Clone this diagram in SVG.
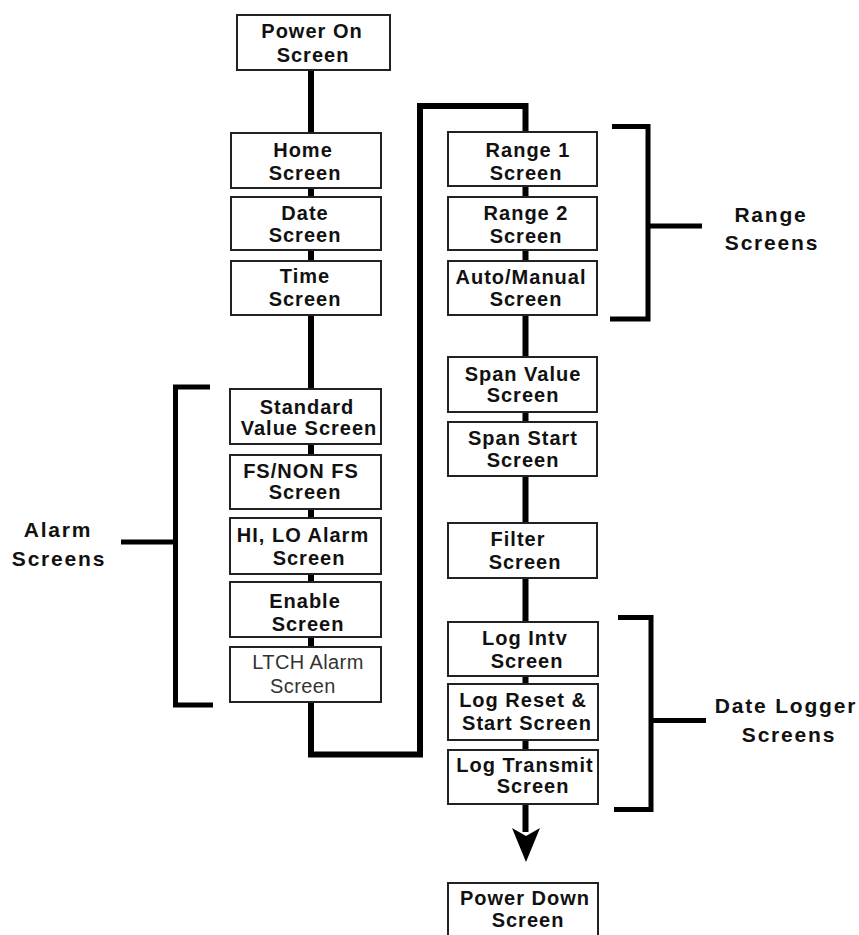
<svg xmlns="http://www.w3.org/2000/svg" width="859" height="935" viewBox="0 0 859 935">
<style>
.box{fill:#fff;stroke:#222;stroke-width:2}
.t{font-family:"Liberation Sans",Arial,sans-serif;font-weight:bold;font-size:20px;letter-spacing:1px;fill:#111;text-anchor:middle}
.r{font-family:"Liberation Sans",Arial,sans-serif;font-weight:normal;font-size:20px;letter-spacing:0.4px;fill:#333;text-anchor:middle}
.lab{font-family:"Liberation Sans",Arial,sans-serif;font-weight:bold;font-size:21px;letter-spacing:1.8px;fill:#111;text-anchor:middle}
.ln{fill:none;stroke:#000;stroke-width:6;stroke-linejoin:miter;stroke-linecap:butt}
.br{fill:none;stroke:#000;stroke-width:5;stroke-linejoin:miter;stroke-linecap:butt}
</style>
<rect width="859" height="935" fill="#fff"/>
<g id="connectors">
<path class="ln" d="M311,70 V754.5 H420 V106 H525.5 V832"/>
<polygon points="512,828 526,836 540,828 526,862" fill="#000"/>
</g>
<g id="brackets">
<path class="br" d="M210,387 H175.5 V705 H213 M175.5,542 H121"/>
<path class="br" d="M612,126.5 H648 V319 H610 M648,226 H702"/>
<path class="br" d="M618,617.5 H651 V809.5 H614 M651,720.5 H706"/>
</g>
<g id="labels">
<text class="lab" x="58" y="537">Alarm</text>
<text class="lab" x="59" y="566">Screens</text>
<text class="lab" x="771" y="222">Range</text>
<text class="lab" x="772" y="250">Screens</text>
<text class="lab" x="786" y="713">Date Logger</text>
<text class="lab" x="789" y="742">Screens</text>
</g>
<g id="power-on"><rect class="box" x="237" y="15" width="153" height="55"/><text class="t" x="312" y="38">Power On</text><text class="t" x="313" y="62">Screen</text></g>
<g id="home"><rect class="box" x="231" y="133" width="150" height="55"/><text class="t" x="303" y="157">Home</text><text class="t" x="305" y="180">Screen</text></g>
<g id="date"><rect class="box" x="231" y="197" width="150" height="53"/><text class="t" x="305" y="220">Date</text><text class="t" x="305" y="242">Screen</text></g>
<g id="time"><rect class="box" x="231" y="261" width="150" height="54"/><text class="t" x="305" y="283">Time</text><text class="t" x="305" y="306">Screen</text></g>
<g id="standard-value"><rect class="box" x="230" y="389" width="151" height="55"/><text class="t" x="307" y="414">Standard</text><text class="t" x="309" y="435">Value Screen</text></g>
<g id="fs-non-fs"><rect class="box" x="230" y="455" width="151" height="54"/><text class="t" x="301" y="478">FS/NON FS</text><text class="t" x="305" y="499">Screen</text></g>
<g id="hi-lo-alarm"><rect class="box" x="230" y="518" width="151" height="56"/><text class="t" x="303" y="542">HI, LO Alarm</text><text class="t" x="309" y="565">Screen</text></g>
<g id="enable"><rect class="box" x="230" y="582" width="151" height="55"/><text class="t" x="305" y="608">Enable</text><text class="t" x="308" y="631">Screen</text></g>
<g id="ltch-alarm"><rect class="box" x="230" y="647" width="151" height="55"/><text class="r" x="308" y="669">LTCH Alarm</text><text class="r" x="303" y="693">Screen</text></g>
<g id="range1"><rect class="box" x="448" y="132" width="149" height="54"/><text class="t" x="528" y="157">Range 1</text><text class="t" x="526" y="180">Screen</text></g>
<g id="range2"><rect class="box" x="448" y="197" width="149" height="53"/><text class="t" x="526" y="220">Range 2</text><text class="t" x="526" y="243">Screen</text></g>
<g id="auto-manual"><rect class="box" x="448" y="261" width="149" height="54"/><text class="t" x="521" y="284">Auto/Manual</text><text class="t" x="526" y="306">Screen</text></g>
<g id="span-value"><rect class="box" x="448" y="357" width="149" height="55"/><text class="t" x="523" y="381">Span Value</text><text class="t" x="523" y="402">Screen</text></g>
<g id="span-start"><rect class="box" x="448" y="422" width="149" height="54"/><text class="t" x="523" y="445">Span Start</text><text class="t" x="523" y="467">Screen</text></g>
<g id="filter"><rect class="box" x="448" y="523" width="149" height="55"/><text class="t" x="518" y="546">Filter</text><text class="t" x="525" y="569">Screen</text></g>
<g id="log-intv"><rect class="box" x="448" y="622" width="150" height="54"/><text class="t" x="525" y="645">Log Intv</text><text class="t" x="527" y="668">Screen</text></g>
<g id="log-reset"><rect class="box" x="448" y="684" width="150" height="56"/><text class="t" x="523" y="707">Log Reset &amp;</text><text class="t" x="527" y="730">Start Screen</text></g>
<g id="log-transmit"><rect class="box" x="448" y="750" width="150" height="54"/><text class="t" x="525" y="772">Log Transmit</text><text class="t" x="533" y="793">Screen</text></g>
<g id="power-down"><rect class="box" x="448" y="883" width="150" height="60"/><text class="t" x="525" y="905">Power Down</text><text class="t" x="528" y="927">Screen</text></g>
</svg>
